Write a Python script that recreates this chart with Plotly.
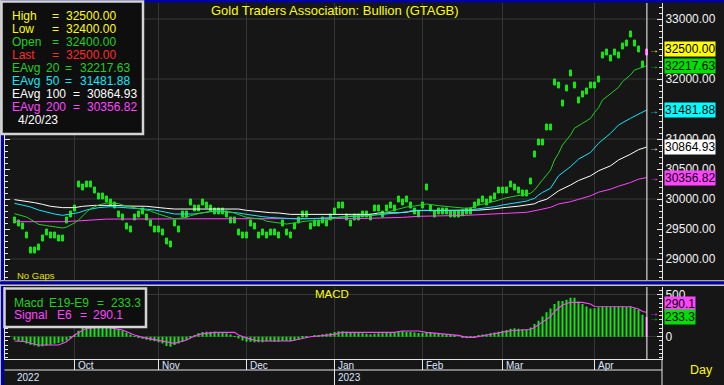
import plotly.graph_objects as go

W, H = 724, 385

# ---------------- data ----------------
HIGH = [29700, 29650, 29600, 29450, 29200, 29200, 29250, 29400, 29500, 29450,
        29450, 29400, 29400, 29700, 29800, 29900, 30300, 30250, 30300, 30300,
        30200, 30100, 30100, 30050, 30000, 29950, 29800, 29750, 29600, 29550,
        29750, 29800, 29850, 29750, 29650, 29550, 29550, 29500, 29350, 29300,
        29650, 29550, 29800, 29800, 30000, 29900, 29900, 30000, 29950, 29900,
        29850, 29850, 29850, 29800, 29700, 29700, 29500, 29450, 29450, 29650,
        29600, 29450, 29500, 29450, 29500, 29500, 29450, 29650, 29500, 29450,
        29600, 29700, 29800, 29800, 29600, 29650, 29650, 29700, 29650, 29750,
        29850, 29950, 29950, 29750, 29650, 29750, 29750, 29800, 29800, 29750,
        29900, 29900, 29800, 29900, 29950, 29900, 30050, 30000, 30050, 29950,
        29850, 29800, 29950, 30250, 29900, 29800, 29850, 29850, 29850, 29800,
        29800, 29800, 29820, 29850, 29850, 29950, 30000, 30050, 30000, 30050,
        30100, 30200, 30200, 30200, 30300, 30250, 30200, 30150, 30150, 30350,
        30800, 31000, 31000, 31250, 31250, 32000, 31950, 31650, 31900, 32150,
        31950, 31700, 31800, 31850, 31950, 31950, 32050, 32450, 32500, 32400,
        32500, 32450, 32600, 32650, 32800, 32650, 32550, 32300, 32500]
LOW = [29600, 29550, 29500, 29350, 29100, 29100, 29150, 29300, 29400, 29350,
       29350, 29300, 29300, 29600, 29700, 29800, 30200, 30150, 30200, 30200,
       30100, 30000, 30000, 29950, 29900, 29850, 29700, 29650, 29500, 29450,
       29650, 29700, 29750, 29650, 29550, 29450, 29450, 29400, 29250, 29200,
       29550, 29450, 29700, 29700, 29900, 29800, 29800, 29900, 29850, 29800,
       29750, 29750, 29750, 29700, 29600, 29600, 29400, 29350, 29350, 29550,
       29500, 29350, 29400, 29350, 29400, 29400, 29350, 29550, 29400, 29350,
       29500, 29600, 29700, 29700, 29500, 29550, 29550, 29600, 29550, 29650,
       29750, 29850, 29850, 29650, 29550, 29650, 29650, 29700, 29700, 29650,
       29800, 29800, 29700, 29800, 29850, 29800, 29950, 29900, 29950, 29850,
       29750, 29700, 29850, 30150, 29800, 29700, 29750, 29750, 29750, 29700,
       29700, 29700, 29720, 29750, 29750, 29850, 29900, 29950, 29900, 29950,
       30000, 30100, 30100, 30100, 30200, 30150, 30100, 30050, 30050, 30250,
       30700, 30900, 30900, 31150, 31150, 31900, 31850, 31550, 31800, 32050,
       31850, 31600, 31700, 31750, 31850, 31850, 31950, 32350, 32400, 32300,
       32400, 32350, 32500, 32550, 32700, 32550, 32450, 32200, 32400]

EMA20_IDX = [0, 3, 5, 6, 8, 11, 12, 13, 15, 16, 17, 18, 19, 21, 23, 26, 28, 31, 34, 36,
             39, 40, 43, 44, 46, 49, 51, 53, 55, 57, 58, 60, 62, 63, 65, 68, 71, 73, 76, 79,
             81, 84, 88, 90, 92, 94, 96, 98, 100, 103, 106, 110, 113, 115, 116, 118, 120, 121, 123, 125,
             127, 129, 130, 131, 132, 134, 135, 136, 137, 139, 140, 142, 144, 145, 146, 147, 149, 151, 152, 154,
             155, 157, 158]
EMA20_VAL = [29756, 29700, 29622, 29578, 29556, 29528, 29517, 29530, 29600, 29650, 29722, 29780, 29840, 29900, 29933, 29922, 29880, 29840, 29800, 29750,
             29678, 29667, 29694, 29722, 29756, 29794, 29806, 29795, 29765, 29717, 29694, 29678, 29661, 29630, 29611, 29583, 29611, 29633, 29639, 29661,
             29694, 29717, 29720, 29733, 29761, 29800, 29840, 29867, 29883, 29917, 29889, 29861, 29844, 29865, 29900, 29928, 29956, 29980, 30022, 30044,
             30070, 30094, 30150, 30240, 30317, 30480, 30650, 30760, 30900, 31067, 31180, 31261, 31344, 31440, 31520, 31650, 31761, 31860, 31956, 32067,
             32150, 32190, 32217.63]

EMA50_IDX = [0, 2, 4, 6, 8, 10, 12, 14, 16, 18, 21, 24, 27, 30, 33, 35, 37, 40, 45, 47,
             49, 51, 54, 56, 58, 60, 62, 64, 67, 71, 76, 83, 88, 92, 95, 98, 100, 114, 115, 117,
             120, 122, 124, 126, 128, 129, 130, 131, 132, 134, 136, 139, 141, 144, 146, 149, 151, 154, 156, 158]
EMA50_VAL = [29928, 29900, 29867, 29817, 29778, 29750, 29728, 29744, 29772, 29817, 29856, 29872, 29861, 29844, 29830, 29817, 29789, 29750, 29750, 29772,
             29789, 29800, 29783, 29767, 29744, 29722, 29706, 29692, 29678, 29667, 29678, 29700, 29722, 29744, 29761, 29785, 29811, 29811, 29828, 29844,
             29872, 29900, 29922, 29940, 29965, 29990, 30010, 30065, 30110, 30178, 30386, 30539, 30664, 30775, 30928, 31095, 31233, 31345, 31420, 31481.88]

EMA100_IDX = [0, 2, 5, 7, 9, 12, 15, 17, 20, 25, 28, 33, 35, 38, 40, 56, 58, 61, 64, 66,
              69, 89, 91, 96, 98, 100, 114, 116, 119, 121, 123, 126, 128, 130, 131, 133, 134, 136, 139, 141,
              144, 146, 149, 151, 154, 156, 158]
EMA100_VAL = [29989, 29972, 29939, 29911, 29878, 29856, 29856, 29878, 29894, 29894, 29883, 29878, 29861, 29844, 29833, 29833, 29811, 29789, 29772, 29767,
              29744, 29744, 29767, 29770, 29780, 29806, 29806, 29815, 29830, 29850, 29861, 29880, 29894, 29920, 29955, 29995, 30040, 30136, 30233, 30308,
              30386, 30470, 30553, 30650, 30747, 30822, 30864.93]

EMA200_IDX = [0, 12, 16, 19, 23, 47, 87, 97, 101, 113, 119, 123, 128, 131, 134, 136, 139, 141, 144, 146,
              149, 151, 154, 156, 158]
EMA200_VAL = [29622, 29622, 29635, 29644, 29665, 29670, 29675, 29694, 29711, 29728, 29744, 29761, 29778, 29817, 29861, 29917, 29955, 29994, 30053, 30113,
              30164, 30213, 30275, 30330, 30356.82]

MACD_HIST = [-40, -50, -60, -80, -95, -105, -120, -115, -105, -95,
             -85, -75, -65, -45, -20, 15, 70, 110, 140, 150,
             150, 145, 140, 130, 120, 105, 90, 75, 50, 25,
             5, -15, -25, -35, -45, -55, -65, -80, -110, -120,
             -100, -80, -60, -40, -10, 20, 40, 55, 60, 60,
             58, 55, 50, 40, 25, 5, -20, -45, -60, -60,
             -65, -65, -65, -55, -55, -60, -60, -50, -50, -55,
             -45, -35, -20, -10, 0, 10, 20, 30, 35, 45,
             55, 65, 65, 60, 55, 50, 45, 40, 35, 30,
             35, 40, 40, 45, 50, 55, 62, 65, 60, 55,
             50, 45, 45, 55, 50, 45, 35, 28, 22, 18,
             10, 0, -5, -8, -5, 5, 15, 25, 30, 40,
             50, 60, 70, 80, 95, 100, 95, 90, 85, 110,
             150, 190, 240, 290, 335, 390, 425, 425, 440, 465,
             465, 420, 390, 360, 335, 340, 350, 360, 360, 355,
             360, 360, 360, 355, 360, 340, 320, 260, 233.3]

SIG_IDX = [0, 3, 4, 6, 11, 13, 15, 18, 21, 24, 27, 30, 32, 35, 38, 40, 43, 46, 50, 55,
           56, 59, 61, 63, 69, 71, 74, 76, 80, 82, 91, 95, 97, 101, 103, 106, 109, 111, 113, 115,
           117, 120, 124, 127, 129, 130, 132, 134, 135, 136, 137, 139, 142, 144, 145, 154, 155, 156, 157, 158]
SIG_VAL = [-52, -60, -79, -99, -99, -60, 20, 99, 111, 105, 79, 20, -8, -32, -60, -79, -40, 28, 52, 52,
           20, -32, -48, -52, -52, -28, 0, 8, 28, 52, 48, 52, 67, 67, 52, 40, 25, 16, -8, -8,
           12, 40, 70, 79, 85, 110, 179, 238, 300, 340, 377, 409, 409, 389, 360, 357, 340, 329, 300, 290.1]

MONTH_LABELS = ["Oct", "Nov", "Dec", "Jan", "Feb", "Mar", "Apr"]
MONTH_IDX = [15, 36, 58, 80, 102, 122, 145]
YEAR_LABELS = ["2022", "2023"]
YEAR_IDX = [0, 80]

PRICE_TICKS = [29000, 29500, 30000, 30500, 31000, 32000, 33000]
MACD_TICKS = [0, 500]

QUOTE_NAMES = ["High", "Low", "Open", "Last"]
QUOTE_VALUES = [32500.00, 32400.00, 32400.00, 32500.00]
EMA_PERIODS = [20, 50, 100, 200]
EMA_LAST = [32217.63, 31481.88, 30864.93, 30356.82]
LAST_DATE = "4/20/23"
MACD_NAMES = ["Macd", "Signal"]
MACD_PARAMS = ["E19-E9", "E6"]
MACD_LAST = [233.3, 290.1]

# ---------------- style ----------------
BG = "#161616"
GRID = "#363636"
AXC = "#e6e6e6"
GREEN = "#10e810"
LGREEN = "#20d020"
CYAN = "#10e8f8"
WHITE = "#ffffff"
MAG = "#ff44ff"
YEL = "#ffff00"
RED = "#ff2a2a"
FONT = "Arial, Liberation Sans, sans-serif"

def px(xp):
    return xp / W

def py(yp):
    return 1 - yp / H

N = len(HIGH)
IDX = list(range(N))
X0, X1 = 4.5, 662
XR = [(X0 - 14.5) / 4, (X1 - 14.5) / 4]

fig = go.Figure()

bar_cols = [GREEN] * (N - 1) + [MAG]
fig.add_trace(go.Bar(x=IDX, y=[h - l for h, l in zip(HIGH, LOW)], base=LOW, width=0.5,
                     marker=dict(color=bar_cols, line=dict(color=bar_cols, width=1)),
                     xaxis="x", yaxis="y", hoverinfo="skip"))
for ix, vals, col, w in [(EMA200_IDX, EMA200_VAL, MAG, 1.0), (EMA100_IDX, EMA100_VAL, WHITE, 1.0),
                         (EMA50_IDX, EMA50_VAL, CYAN, 1.0), (EMA20_IDX, EMA20_VAL, LGREEN, 1.0)]:
    fig.add_trace(go.Scatter(x=ix, y=vals, mode="lines", line=dict(color=col, width=w),
                             xaxis="x", yaxis="y", hoverinfo="skip"))

hist_cols = [GREEN] * (N - 1) + [MAG]
fig.add_trace(go.Bar(x=IDX, y=MACD_HIST, width=0.26, marker=dict(color=hist_cols, line=dict(width=0)),
                     xaxis="x2", yaxis="y2", hoverinfo="skip"))
fig.add_trace(go.Scatter(x=SIG_IDX, y=SIG_VAL, mode="lines", line=dict(color=MAG, width=1.1),
                         xaxis="x2", yaxis="y2", hoverinfo="skip"))

# main y range from pixel calibration: 33000 at y=19, 0.06 px per unit
Y_TOP = 33000 + (19 - 3) / 0.06
Y_BOT = 33000 - (280 - 19) / 0.06
# MACD: zero at y=336.7, 0.084 px per unit
M_TOP = (336.7 - 287) / 0.084
M_BOT = -(359 - 336.7) / 0.084

axis_common = dict(showline=True, linecolor=AXC, linewidth=1, zeroline=False, mirror="ticks",
                   ticks="inside", tickcolor=AXC, automargin=False,
                   tickfont=dict(color="#f2f2f2", size=12, family=FONT))

fig.update_layout(
    width=W, height=H, margin=dict(l=0, r=0, t=0, b=0, pad=0, autoexpand=False),
    paper_bgcolor=BG, plot_bgcolor=BG, showlegend=False, barmode="overlay",
    hovermode=False,
    font=dict(family=FONT, color="#f0f0f0"),
    xaxis=dict(domain=[px(X0), px(X1)], range=XR, anchor="y", tickvals=MONTH_IDX,
               showticklabels=False, showgrid=True, gridcolor=GRID, gridwidth=1, ticks="",
               zeroline=False, showline=False, automargin=False),
    xaxis2=dict(domain=[px(X0), px(X1)], range=XR, anchor="y2", matches="x", tickvals=MONTH_IDX,
                showticklabels=False, showgrid=True, gridcolor=GRID, gridwidth=1, ticks="",
                zeroline=False, showline=True, linecolor=AXC, linewidth=1, automargin=False),
    yaxis=dict(domain=[py(280), py(3)], range=[Y_BOT, Y_TOP], side="right", anchor="x",
               tickvals=PRICE_TICKS, tickformat=".2f", ticklen=5, showgrid=False,
               minor=dict(dtick=100, ticklen=3, ticks="inside", tickcolor=AXC, showgrid=False),
               **axis_common),
    yaxis2=dict(domain=[py(359), py(287)], range=[M_BOT, M_TOP], side="right", anchor="x2",
                tickvals=MACD_TICKS, tickformat="d", ticklen=5, showgrid=True, gridcolor=GRID,
                minor=dict(dtick=50, ticklen=3, ticks="inside", tickcolor=AXC, showgrid=False),
                **axis_common),
)

shapes = []
# horizontal grid of the price panel every 1000
for lvl in range(29000, 33001, 1000):
    shapes.append(dict(type="line", xref="x domain", x0=0, x1=1, yref="y", y0=lvl, y1=lvl,
                       line=dict(color=GRID, width=1), layer="below"))
# last-bar cursor line
shapes.append(dict(type="line", xref="x", x0=IDX[-1] + 0.1, x1=IDX[-1] + 0.1, yref="y domain", y0=0, y1=1,
                   line=dict(color=WHITE, width=1)))
shapes.append(dict(type="line", xref="x2", x0=IDX[-1] + 0.1, x1=IDX[-1] + 0.1, yref="y2 domain", y0=0, y1=1,
                   line=dict(color=WHITE, width=1)))
# frame pieces
shapes.append(dict(type="rect", xref="paper", yref="paper", x0=0, x1=1, y0=py(2.5), y1=1,
                   fillcolor="#0000a8", line=dict(width=0)))
shapes.append(dict(type="rect", xref="paper", yref="paper", x0=0, x1=px(1), y0=0, y1=1,
                   fillcolor="#b8b8b8", line=dict(width=0)))
shapes.append(dict(type="rect", xref="paper", yref="paper", x0=px(1), x1=px(4), y0=0, y1=1,
                   fillcolor="#0000a8", line=dict(width=0)))
shapes.append(dict(type="rect", xref="paper", yref="paper", x0=0, x1=1, y0=py(281.5), y1=py(280),
                   fillcolor="#a8a8a8", line=dict(width=0)))
shapes.append(dict(type="rect", xref="paper", yref="paper", x0=0, x1=1, y0=py(284.5), y1=py(281.5),
                   fillcolor="#0000a8", line=dict(width=0)))
shapes.append(dict(type="rect", xref="paper", yref="paper", x0=0, x1=1, y0=py(286), y1=py(284.5),
                   fillcolor="#c8c8c8", line=dict(width=0)))
# bottom date rows
shapes.append(dict(type="line", xref="paper", yref="paper", x0=px(X0), x1=px(X1), y0=py(370), y1=py(370),
                   line=dict(color=AXC, width=1)))
shapes.append(dict(type="line", xref="paper", yref="paper", x0=px(X1), x1=px(X1), y0=0, y1=py(359),
                   line=dict(color=AXC, width=1)))
for mi in MONTH_IDX:
    shapes.append(dict(type="line", xref="x", yref="paper", x0=mi, x1=mi, y0=py(370), y1=py(359),
                       line=dict(color=AXC, width=1)))
for yi in YEAR_IDX[1:]:
    shapes.append(dict(type="line", xref="x", yref="paper", x0=yi, x1=yi, y0=0, y1=py(370),
                       line=dict(color=AXC, width=1)))
# legend boxes
shapes.append(dict(type="rect", xref="paper", yref="paper", x0=px(1.5), x1=px(143), y0=py(134), y1=py(1.5),
                   fillcolor="#0e0e0e", line=dict(color="#d4d4d4", width=2.5)))
shapes.append(dict(type="rect", xref="paper", yref="paper", x0=px(4.5), x1=px(146), y0=py(327), y1=py(288.5),
                   fillcolor="#0e0e0e", line=dict(color="#d4d4d4", width=2.5)))
fig.update_layout(shapes=shapes)

ann = []

def text(x, y, s, color, size=12, xanchor="left", **kw):
    ann.append(dict(xref="paper", yref="paper", x=px(x), y=py(y), text=s, showarrow=False,
                    xanchor=xanchor, yanchor="middle", font=dict(color=color, size=size, family=FONT), **kw))

# title & captions
text(335, 10, "Gold Traders Association: Bullion (GTAGB)", YEL, 13, xanchor="center")
text(15, 275, "No Gaps", "#e0e000", 9.5)
text(332, 294, "MACD", YEL, 11.5, xanchor="center")
text(688, 370, "Day", YEL, 12.5)

# main legend
ROW0, ROWH = 16, 12.95
qcols = [YEL, YEL, LGREEN, RED]
for k, (nm, v) in enumerate(zip(QUOTE_NAMES, QUOTE_VALUES)):
    y = ROW0 + ROWH * k
    text(10, y, nm, qcols[k])
    text(50, y, "=", qcols[k])
    text(63.5, y, f"{v:.2f}", qcols[k])
ecols = [LGREEN, CYAN, WHITE, MAG]
for k, (p, v) in enumerate(zip(EMA_PERIODS, EMA_LAST)):
    y = ROW0 + ROWH * (k + 4)
    eqx, vx = (63, 77.5) if p < 100 else (70.5, 84.5)
    text(10, y, "EAvg", ecols[k])
    text(44, y, str(p), ecols[k])
    text(eqx, y, "=", ecols[k])
    text(vx, y, f"{v:.2f}", ecols[k])
text(16, ROW0 + ROWH * 8, LAST_DATE, WHITE)

# MACD legend
mcols = [LGREEN, MAG]
for k in range(2):
    y = 302.5 + 12.5 * k
    pos = [(12, 47, 95, 108.5), (12, 55, 78, 91)][k]
    text(pos[0], y, MACD_NAMES[k], mcols[k])
    text(pos[1], y, MACD_PARAMS[k], mcols[k])
    text(pos[2], y, "=", mcols[k])
    text(pos[3], y, f"{MACD_LAST[k]:.1f}", mcols[k])

# right-hand value flags for the price panel
flag_vals = [QUOTE_VALUES[3]] + EMA_LAST
flag_cols = [YEL, "#00e000", "#00ffff", WHITE, MAG]
arrow_cols = [YEL, LGREEN, CYAN, WHITE, MAG]
for v, bg, ac in zip(flag_vals, flag_cols, arrow_cols):
    ann.append(dict(xref="paper", yref="y", x=px(663.5), y=v, text=f"{v:.2f}", showarrow=False,
                    xanchor="left", yanchor="middle", bgcolor=bg, borderpad=0,
                    font=dict(color="#000000", size=12, family=FONT)))
    ann.append(dict(xref="paper", yref="y", x=px(653.5), y=v, text="→", showarrow=False,
                    xanchor="center", yanchor="middle", font=dict(color=ac, size=10, family=FONT)))

# MACD value flags
for v, bg, ac, ys in [(MACD_LAST[1], MAG, MAG, 8), (MACD_LAST[0], "#00e000", LGREEN, 0)]:
    ann.append(dict(xref="paper", yref="y2", x=px(663.5), y=v, text=f"{v:.1f}", showarrow=False,
                    xanchor="left", yanchor="middle", bgcolor=bg, borderpad=0, yshift=ys,
                    font=dict(color="#000000", size=12, family=FONT)))
    ann.append(dict(xref="paper", yref="y2", x=px(653.5), y=v, text="→", showarrow=False,
                    xanchor="center", yanchor="middle", font=dict(color=ac, size=10, family=FONT)))

# month / year labels
for lab, mi in zip(MONTH_LABELS, MONTH_IDX):
    ann.append(dict(xref="x", yref="paper", x=mi, y=py(365), text=lab, showarrow=False,
                    xanchor="left", yanchor="middle", xshift=1,
                    font=dict(color="#dfe6ff", size=10, family=FONT)))
for lab, yi in zip(YEAR_LABELS, YEAR_IDX):
    ann.append(dict(xref="x", yref="paper", x=yi, y=py(377.5), text=lab, showarrow=False,
                    xanchor="left", yanchor="middle", xshift=1 if yi else 0,
                    font=dict(color="#dfe6ff", size=10, family=FONT)))

fig.update_layout(annotations=ann)

fig.write_html("out.html", config={"displayModeBar": False},
               post_script="document.body.style.margin='0px';document.body.style.overflow='hidden';")
